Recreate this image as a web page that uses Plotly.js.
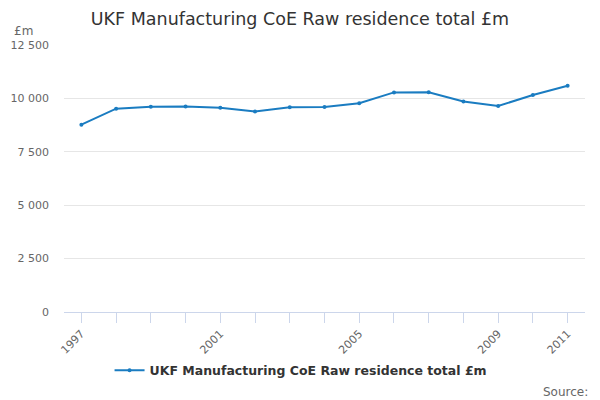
<!DOCTYPE html>
<html>
<head>
<meta charset="utf-8">
<script src="https://cdn.plot.ly/plotly-3.0.1.min.js"></script>
<style>
  html, body { margin: 0; padding: 0; background: #fff; }
  #chart { width: 600px; height: 400px; }
</style>
</head>
<body>
<div id="chart"></div>
<script>
// data
const years = [1997, 1998, 1999, 2000, 2001, 2002, 2003, 2004, 2005, 2006, 2007, 2008, 2009, 2010, 2011];
const values = [8770, 9520, 9610, 9615, 9565, 9390, 9580, 9595, 9770, 10280, 10285, 9855, 9645, 10160, 10590];
const labelledYears = [1997, 2001, 2005, 2009, 2011];
const yTicks = [0, 2500, 5000, 7500, 10000, 12500];

const seriesName = 'UKF Manufacturing CoE Raw residence total £m';
const lineColor = '#1a7cc1';

const trace = {
    x: years,
    y: values,
    type: 'scatter',
    mode: 'lines+markers',
    name: seriesName,
    line: { color: lineColor, width: 2 },
    marker: { color: lineColor, size: 4 }
};

const layout = {
    width: 600,
    height: 400,
    paper_bgcolor: '#fff',
    plot_bgcolor: '#fff',
    font: { family: 'DejaVu Sans, sans-serif', color: '#666', size: 11 },
    separators: '. ',
    margin: { l: 64, r: 15, t: 45, b: 88 },
    title: {
        text: seriesName,
        font: { size: 17.5, color: '#333' },
        x: 0.5, xanchor: 'center',
        y: 0.953, yanchor: 'middle'
    },
    xaxis: {
        range: [1996.5, 2011.5],
        tickmode: 'array',
        tickvals: years,
        ticktext: years.map(y => labelledYears.includes(y) ? String(y) : ''),
        tickangle: -45,
        ticks: 'outside',
        ticklen: 10,
        tickcolor: '#ccd6eb',
        showline: true,
        linecolor: '#ccd6eb',
        linewidth: 1,
        showgrid: false,
        zeroline: false,
        fixedrange: true,
        tickfont: { size: 11, color: '#666' }
    },
    yaxis: {
        range: [0, 12500],
        tickmode: 'array',
        tickvals: yTicks,
        tickformat: ',d',
        showgrid: true,
        gridcolor: '#e6e6e6',
        zeroline: false,
        showline: false,
        ticks: '',
        ticklabelstandoff: 14,
        fixedrange: true,
        tickfont: { size: 11, color: '#666' }
    },
    showlegend: true,
    legend: {
        orientation: 'h',
        x: 0.455, xanchor: 'center',
        y: -0.22, yanchor: 'middle',
        font: { size: 12.5, color: '#333', weight: 'bold' }
    },
    annotations: [
        {
            text: '£m', xref: 'paper', yref: 'paper',
            x: -0.1, xanchor: 'left', y: 1.02, yanchor: 'bottom',
            showarrow: false, font: { size: 12, color: '#666' }
        },
        {
            text: 'Source:', xref: 'paper', yref: 'paper',
            x: 1.01, xanchor: 'right', y: -0.3, yanchor: 'middle',
            showarrow: false, font: { size: 12, color: '#666' }
        }
    ]
};

Plotly.newPlot('chart', [trace], layout, { displayModeBar: false, staticPlot: true });
</script>
</body>
</html>
